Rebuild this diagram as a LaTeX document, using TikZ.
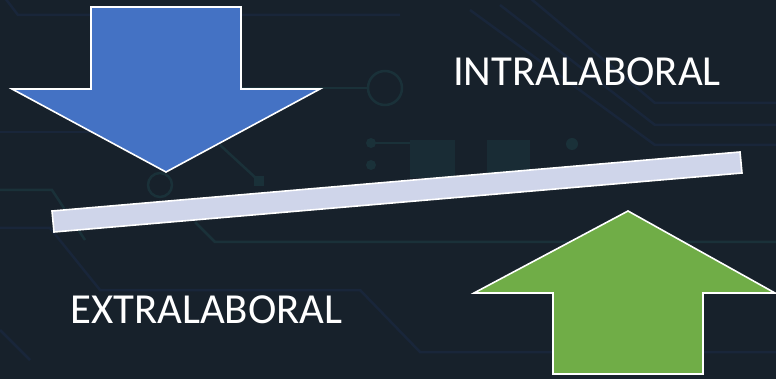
\documentclass[tikz,border=0pt]{standalone}
\usepackage{fontspec}
\setmainfont{Carlito}
\definecolor{bgc}{HTML}{17212B}
\definecolor{teal1}{HTML}{1A3139}
\definecolor{navy1}{HTML}{19263A}
\definecolor{blueA}{HTML}{4472C4}
\definecolor{greenA}{HTML}{70AD47}
\definecolor{barc}{HTML}{CFD5EA}
\tikzset{
  circ/.style={draw=teal1, line width=2.5pt},
  circn/.style={draw=navy1, line width=2.5pt},
  shapeA/.style={draw=white, line width=1.6pt, line join=miter},
  lbl/.style={text=white, font=\fontsize{42.8}{46}\selectfont, inner sep=0pt, anchor=base west}
}
\begin{document}
\begin{tikzpicture}[x=1pt,y=-1pt]
\fill[bgc] (0,0) rectangle (776,379);
\useasboundingbox (0,0) rectangle (776,379);
% faint circuit background
\draw[circn] (5,-2) -- (18,15) -- (400,15);
\draw[circ] (240,88) -- (367,88);
\draw[circ] (385,88) circle (17);
\draw[circn] (0,132) -- (215,132);
\draw[circ] (220,145) -- (258,180);
\fill[teal1] (254,176) rectangle (264,186);
\draw[circ] (160,185) circle (12);
\draw[circ] (0,190) -- (52,190) -- (85,240);
\draw[circ] (195,222) -- (215,242) -- (776,242);
\draw[circn] (0,228) -- (50,228) -- (100,290) -- (360,290) -- (420,352) -- (776,352);
\draw[circn] (0,330) -- (30,360);
\fill[teal1] (371,143) circle (5);
\fill[teal1] (371,165) circle (5);
\draw[circ] (371,143) -- (410,143);
\fill[teal1!70!bgc] (410,140) rectangle (455,178);
\fill[teal1!70!bgc] (487,140) rectangle (530,178);
\draw[circn] (530,-2) -- (655,103) -- (776,103);
\draw[circn] (500,5) -- (655,125) -- (776,125);
\draw[circn] (470,10) -- (655,145) -- (776,145);
\fill[teal1] (572,144) circle (6);
% blue down arrow
\coordinate (bt) at (166,172);
\draw[shapeA, fill=blueA] (91,7) -- (241,7) -- (241,89) -- (320,89) -- (bt) -- (12,89) -- (91,89) -- cycle;
% balance bar
\draw[shapeA, fill=barc] (52,211) -- (740,152) -- (742,173) -- (54,232) -- cycle;
% green up arrow
\coordinate (gt) at (628,211);
\draw[shapeA, fill=greenA] (gt) -- (775,293) -- (703,293) -- (703,374) -- (553,374) -- (553,293) -- (474,293) -- cycle;
% labels
\node[lbl] (intra) at (453,86) {INTRALABORAL};
\node[lbl] (extra) at (70,323) {EXTRALABORAL};
\end{tikzpicture}
\end{document}
